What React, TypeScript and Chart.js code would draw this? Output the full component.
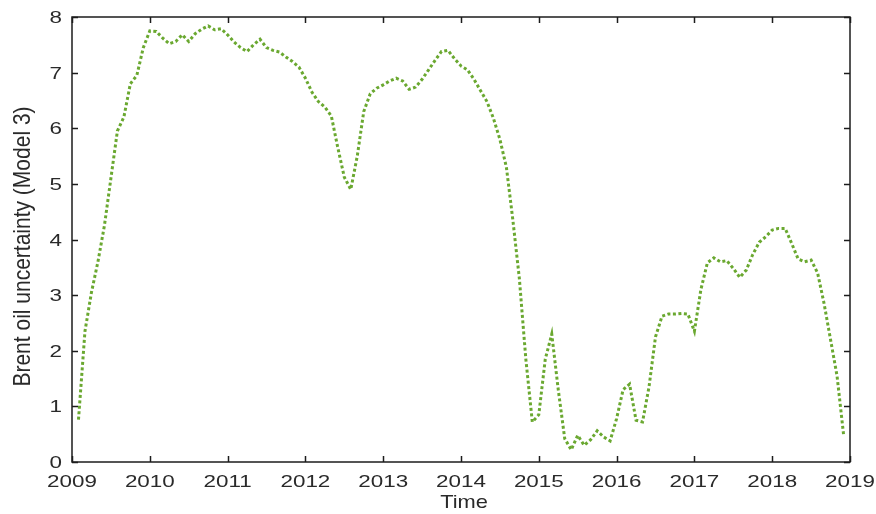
import React, { useEffect, useRef } from 'react';
import { Chart, registerables } from 'chart.js';

Chart.register(...registerables);

// Monthly series, first observation February 2009
const startYear = 2009;
const startMonth = 2;
const uncertainty = [
  0.76, 2.35, 3.05, 3.6, 4.25, 5.1, 5.95, 6.2, 6.8, 6.95, 7.45,
  7.75, 7.74, 7.62, 7.52, 7.56, 7.68, 7.56, 7.7, 7.78, 7.84, 7.77, 7.79,
  7.68, 7.55, 7.45, 7.38, 7.5, 7.6, 7.45, 7.4, 7.37, 7.28, 7.2, 7.1,
  6.9, 6.65, 6.48, 6.38, 6.22, 5.65, 5.12, 4.9, 5.5, 6.3, 6.62, 6.72,
  6.78, 6.85, 6.9, 6.85, 6.7, 6.74, 6.88, 7.05, 7.22, 7.38, 7.4, 7.25,
  7.12, 7.05, 6.88, 6.68, 6.48, 6.18, 5.8, 5.3, 4.35, 3.3, 1.85, 0.72,
  0.85, 1.85, 2.3, 1.3, 0.42, 0.22, 0.48, 0.3, 0.4, 0.56, 0.45, 0.38,
  0.78, 1.3, 1.4, 0.75, 0.72, 1.35, 2.25, 2.62, 2.66, 2.66, 2.67, 2.66,
  2.35, 3.1, 3.58, 3.67, 3.6, 3.62, 3.48, 3.32, 3.45, 3.73, 3.95, 4.05,
  4.17, 4.2, 4.2, 3.93, 3.65, 3.6, 3.63, 3.4, 2.85, 2.2, 1.55, 0.5,
];
const xTicks = [2009, 2010, 2011, 2012, 2013, 2014, 2015, 2016, 2017, 2018, 2019];
const yTicks = [0, 1, 2, 3, 4, 5, 6, 7, 8];
const xTitle = 'Time';
const yTitle = 'Brent oil uncertainty (Model 3)';

const TEXT_COLOR = '#2a2a2a';
const AXIS_COLOR = '#1c1c1c';
const LINE_COLOR = '#6aa830';
const FONT_FAMILY = '"Liberation Sans", Arial, Helvetica, sans-serif';

function drawText(
  ctx: CanvasRenderingContext2D,
  text: string,
  x: number,
  y: number,
  size: number,
  stretch: number,
  align: CanvasTextAlign,
  rotate = false,
) {
  ctx.save();
  ctx.translate(x, y);
  ctx.scale(stretch, 1);
  if (rotate) ctx.rotate(-Math.PI / 2);
  ctx.font = `${size}px ${FONT_FAMILY}`;
  ctx.textAlign = align;
  ctx.textBaseline = 'alphabetic';
  ctx.fillText(text, 0, 0);
  ctx.restore();
}

// Boxed axes with inward ticks and wide, Helvetica-like labels
const framePlugin = {
  id: 'frame',
  afterDraw(chart: any) {
    const { ctx, chartArea } = chart;
    const { left, right, top, bottom } = chartArea;
    const xs = chart.scales.x;
    const ys = chart.scales.y;
    const tick = 6;

    ctx.save();
    ctx.strokeStyle = AXIS_COLOR;
    ctx.lineWidth = 1.5;
    ctx.strokeRect(left, top, right - left, bottom - top);
    ctx.beginPath();
    xTicks.forEach((v) => {
      const px = Math.round(xs.getPixelForValue(v)) + 0.5;
      ctx.moveTo(px, bottom);
      ctx.lineTo(px, bottom - tick);
      ctx.moveTo(px, top);
      ctx.lineTo(px, top + tick);
    });
    yTicks.forEach((v) => {
      const py = Math.round(ys.getPixelForValue(v)) + 0.5;
      ctx.moveTo(left, py);
      ctx.lineTo(left + tick, py);
      ctx.moveTo(right, py);
      ctx.lineTo(right - tick, py);
    });
    ctx.stroke();

    ctx.fillStyle = TEXT_COLOR;
    xTicks.forEach((v) => {
      drawText(ctx, String(v), xs.getPixelForValue(v), bottom + 25, 16, 1.4, 'center');
    });
    yTicks.forEach((v) => {
      drawText(ctx, String(v), left - 10, ys.getPixelForValue(v) + 6, 16, 1.4, 'right');
    });
    drawText(ctx, xTitle, (left + right) / 2 + 3, bottom + 46, 19, 1.15, 'center');
    drawText(ctx, yTitle, left - 42, (top + bottom) / 2 + 7, 21, 1.15, 'center', true);
    ctx.restore();
  },
};

export default function App() {
  const canvasRef = useRef<HTMLCanvasElement | null>(null);

  useEffect(() => {
    const canvas = canvasRef.current;
    if (!canvas) return;
    const points = uncertainty.map((y, i) => ({
      x: startYear + (startMonth - 1 + i) / 12,
      y,
    }));

    const chart = new Chart(canvas, {
      type: 'line',
      data: {
        datasets: [
          {
            data: points,
            borderColor: LINE_COLOR,
            borderWidth: 3,
            borderDash: [3, 2.5],
            pointRadius: 0,
            tension: 0,
            fill: false,
          },
        ],
      },
      options: {
        responsive: false,
        animation: false,
        devicePixelRatio: 1,
        layout: { padding: { top: 17, right: 26, left: 0, bottom: 0 } },
        plugins: {
          legend: { display: false },
          tooltip: { enabled: false },
        },
        scales: {
          x: {
            type: 'linear',
            min: 2009,
            max: 2019,
            ticks: { display: false, stepSize: 1 },
            grid: { display: false },
            border: { display: false },
            afterFit: (scale: any) => {
              scale.height = 52;
            },
          },
          y: {
            type: 'linear',
            min: 0,
            max: 8,
            ticks: { display: false, stepSize: 1 },
            grid: { display: false },
            border: { display: false },
            afterFit: (scale: any) => {
              scale.width = 72;
            },
          },
        },
      },
      plugins: [framePlugin],
    });

    return () => chart.destroy();
  }, []);

  return (
    <div style={{ position: 'absolute', left: 0, top: 0, width: 876, height: 514, background: '#ffffff' }}>
      <canvas ref={canvasRef} width={876} height={514} />
    </div>
  );
}
